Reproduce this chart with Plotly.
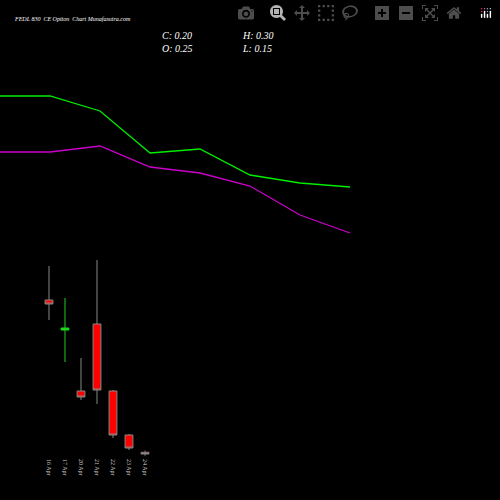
import plotly.graph_objects as go

dates = ["16 Apr", "17 Apr", "20 Apr", "21 Apr", "22 Apr", "23 Apr", "24 Apr"]
opens = [4.82, 3.92, 2.09, 4.10, 2.09, 0.77, 0.25]
highs = [5.84, 4.88, 3.08, 6.02, 2.12, 0.80, 0.30]
lows = [4.22, 2.96, 1.82, 1.70, 0.68, 0.32, 0.15]
closes = [4.70, 3.98, 1.91, 2.12, 0.77, 0.38, 0.20]

ma_fast = [10.94, 10.94, 10.49, 9.23, 9.35, 8.57, 8.33, 8.21]
ma_slow = [9.26, 9.26, 9.44, 8.81, 8.63, 8.24, 7.37, 6.83]

idx = list(range(len(dates)))

fig = go.Figure()
fig.add_trace(go.Candlestick(
    x=idx, open=opens, high=highs, low=lows, close=closes,
    increasing=dict(line=dict(color="#22cc22", width=1), fillcolor="#00ff00"),
    decreasing=dict(line=dict(color="#888888", width=1), fillcolor="#ff0000"),
    whiskerwidth=0, showlegend=False,
))
fig.add_trace(go.Scatter(x=list(range(len(ma_fast))), y=ma_fast, mode="lines",
                         line=dict(color="#00ee00", width=1.3), xaxis="x2", yaxis="y",
                         showlegend=False))
fig.add_trace(go.Scatter(x=list(range(len(ma_slow))), y=ma_slow, mode="lines",
                         line=dict(color="#cc00cc", width=1.3), xaxis="x2", yaxis="y",
                         showlegend=False))

font = dict(family="Liberation Serif", color="white")
fig.update_layout(
    width=500, height=500, paper_bgcolor="black", plot_bgcolor="black",
    margin=dict(l=0, r=0, t=0, b=42),
    xaxis=dict(range=[-3.0625, 28.1875], tickvals=idx, ticktext=dates, tickangle=90,
               showgrid=False, zeroline=False, showline=False, ticks="",
               tickfont=dict(family="Liberation Serif", color="#cccccc", size=6),
               rangeslider=dict(visible=False)),
    xaxis2=dict(range=[0, 10], overlaying="x", visible=False),
    yaxis=dict(range=[0.08, 13.82], visible=False),
    annotations=[
        dict(text="<i>FEDL 830  CE Option  Chart Munafasutra.com</i>", x=12, y=14,
             xref="paper", yref="paper", showarrow=False, xanchor="left",
             font=dict(size=6, **font)),
        dict(text="<i>C: 0.20</i><br><i>O: 0.25</i>", x=160, y=28, xanchor="left",
             xref="paper", yref="paper", showarrow=False, align="left",
             font=dict(size=10, **font)),
        dict(text="<i>H: 0.30</i><br><i>L: 0.15</i>", x=240, y=28, xanchor="left",
             xref="paper", yref="paper", showarrow=False, align="left",
             font=dict(size=10, **font)),
    ],
)
# convert annotation pixel positions to paper fractions
for a in fig.layout.annotations:
    a.x = a.x / 500
    a.y = 1 - a.y / 458
fig.write_html("out.html", post_script="document.body.style.margin='0';document.body.style.background='black';")
